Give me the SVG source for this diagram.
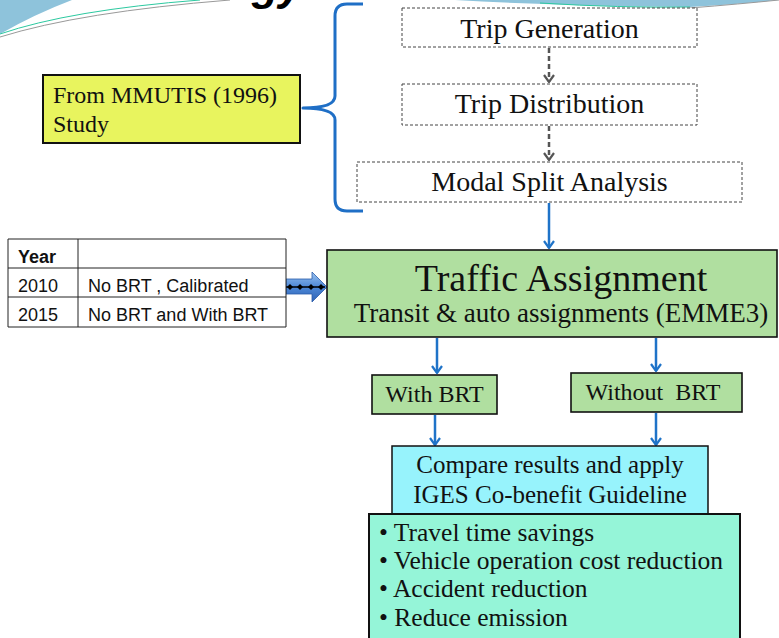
<svg xmlns="http://www.w3.org/2000/svg" width="779" height="638" viewBox="0 0 779 638">
  <defs>
    <style>
      .serif { font-family: "Liberation Serif", "Times New Roman", serif; fill: #111; }
      .sans { font-family: "Liberation Sans", Arial, sans-serif; fill: #111; font-size: 18px; }
      .dash-box { fill: #fff; stroke: #444; stroke-width: 1; stroke-dasharray: 3 2; }
      .green { fill: #B0DFA0; stroke: #111; stroke-width: 1.6; }
      .flow { fill: none; stroke: #1F73C8; stroke-width: 2.5; }
      .dflow { fill: none; stroke: #555; stroke-width: 2.5; stroke-dasharray: 5 3; }
      .grid { fill: none; stroke: #222; stroke-width: 1; }
    </style>
    <!-- open chevron heads, drawn along +x so orient="auto" turns them with the line -->
    <marker id="head-blue" viewBox="0 0 10 12" refX="9" refY="6" markerWidth="10" markerHeight="12" markerUnits="userSpaceOnUse" orient="auto">
      <polyline points="2,1 9,6 2,11" fill="none" stroke="#1F73C8" stroke-width="2.2" stroke-linejoin="miter"/>
    </marker>
    <marker id="head-grey" viewBox="0 0 10 12" refX="9" refY="6" markerWidth="10" markerHeight="12" markerUnits="userSpaceOnUse" orient="auto">
      <polyline points="2,1 9,6 2,11" fill="none" stroke="#555" stroke-width="2.2" stroke-linejoin="miter"/>
    </marker>
    <linearGradient id="fat" x1="0" y1="0" x2="0" y2="1">
      <stop offset="0" stop-color="#9CC4F0"/>
      <stop offset="0.5" stop-color="#4C87D6"/>
      <stop offset="1" stop-color="#2E62B4"/>
    </linearGradient>
  </defs>

  <!-- background decoration -->
  <g id="decor">
    <path d="M0,0 H72 Q35,14 0,34 Z" fill="#8EC3DB"/>
    <path d="M0,34 Q70,10 200,0" fill="none" stroke="#2CC9A0" stroke-width="1"/>
    <path d="M0,37 Q80,12 230,0" fill="none" stroke="#999" stroke-width="1"/>
    <path d="M455,0 Q560,6 690,7 Q740,4 779,0 Z" fill="#8EC3DB"/>
    <path d="M540,3 Q620,8 690,7" fill="none" stroke="#2CC9A0" stroke-width="1"/>
    <path d="M690,8 Q740,4 779,0" fill="none" stroke="#999" stroke-width="1"/>
    <text x="303" y="0" text-anchor="end" font-family="Liberation Sans, Arial, sans-serif" font-weight="bold" font-style="italic" font-size="44" fill="#000">Methodology</text>
  </g>

  <!-- connectors -->
  <g id="connectors">
    <line class="dflow" x1="549" y1="48" x2="549" y2="82" marker-end="url(#head-grey)"/>
    <line class="dflow" x1="549" y1="126" x2="549" y2="160" marker-end="url(#head-grey)"/>
    <line class="flow" x1="549" y1="203" x2="549" y2="248" marker-end="url(#head-blue)"/>
    <line class="flow" x1="437" y1="338" x2="437" y2="373" marker-end="url(#head-blue)"/>
    <line class="flow" x1="656" y1="338" x2="656" y2="371" marker-end="url(#head-blue)"/>
    <line class="flow" x1="435" y1="415" x2="435" y2="445" marker-end="url(#head-blue)"/>
    <line class="flow" x1="656" y1="413" x2="656" y2="445" marker-end="url(#head-blue)"/>
    <!-- brace grouping the first three steps -->
    <path d="M363,4 H347 Q335,4 335,16 V96 Q335,108 303,108 Q335,108 335,120 V199 Q335,211 347,211 H363" fill="none" stroke="#1F6FC6" stroke-width="3" stroke-linejoin="round"/>
    <!-- block arrow from the scenario table -->
    <path d="M286,279 H312 V272 L327,287 L312,302 V294 H286 Z" fill="url(#fat)" stroke="#2A5CAA" stroke-width="0.8"/>
    <line x1="286" y1="287" x2="325" y2="287" stroke="#000" stroke-width="1.5"/>
    <g fill="#000">
      <path d="M290,284 l3,3 l-3,3 l-3,-3 Z"/>
      <path d="M300,284 l3,3 l-3,3 l-3,-3 Z"/>
      <path d="M311,284 l3,3 l-3,3 l-3,-3 Z"/>
      <path d="M321,284 l3,3 l-3,3 l-3,-3 Z"/>
    </g>
  </g>

  <g id="trip-generation">
    <rect class="dash-box" x="402" y="8" width="295" height="39"/>
    <text class="serif" x="549.5" y="38" text-anchor="middle" font-size="28">Trip Generation</text>
  </g>

  <g id="trip-distribution">
    <rect class="dash-box" x="402" y="84" width="295" height="41"/>
    <text class="serif" x="549.5" y="113" text-anchor="middle" font-size="28">Trip Distribution</text>
  </g>

  <g id="modal-split">
    <rect class="dash-box" x="357" y="162" width="385" height="40"/>
    <text class="serif" x="549.5" y="191" text-anchor="middle" font-size="28">Modal Split Analysis</text>
  </g>

  <g id="mmutis-note">
    <rect x="43" y="75" width="257" height="68" fill="#E8F45E" stroke="#111" stroke-width="2"/>
    <text class="serif" x="53" y="103" font-size="24">From MMUTIS (1996)</text>
    <text class="serif" x="53" y="132" font-size="24">Study</text>
  </g>

  <g id="scenario-table">
    <rect x="8" y="239" width="278" height="88" fill="#fff"/>
    <path class="grid" d="M8,239 H286 V327 H8 Z M78,239 V327 M8,268 H286 M8,297 H286"/>
    <text class="sans" x="18" y="263" font-weight="bold">Year</text>
    <text class="sans" x="18" y="292">2010</text>
    <text class="sans" x="88" y="292">No BRT , Calibrated</text>
    <text class="sans" x="18" y="321">2015</text>
    <text class="sans" x="88" y="321">No BRT and With BRT</text>
  </g>

  <g id="traffic-assignment">
    <rect class="green" x="327" y="250" width="450" height="87" stroke-width="2"/>
    <text class="serif" x="561" y="291" text-anchor="middle" font-size="38">Traffic Assignment</text>
    <text class="serif" x="561" y="322" text-anchor="middle" font-size="27">Transit &amp; auto assignments (EMME3)</text>
  </g>

  <g id="with-brt">
    <rect class="green" x="372" y="375" width="125" height="39"/>
    <text class="serif" x="434.5" y="402" text-anchor="middle" font-size="24">With BRT</text>
  </g>

  <g id="without-brt">
    <rect class="green" x="571" y="373" width="171" height="39"/>
    <text class="serif" x="653" y="400" text-anchor="middle" font-size="24">Without&#160; BRT</text>
  </g>

  <g id="compare">
    <rect x="392" y="446" width="316" height="68" fill="#97F3FC" stroke="#111" stroke-width="1.5"/>
    <text class="serif" x="550" y="473" text-anchor="middle" font-size="25">Compare results and apply</text>
    <text class="serif" x="550" y="503" text-anchor="middle" font-size="25">IGES Co-benefit Guideline</text>
  </g>

  <g id="benefits">
    <rect x="369" y="514" width="371" height="140" fill="#95F5D8" stroke="#111" stroke-width="2"/>
    <text class="serif" font-size="25.5">
      <tspan x="379" y="541">• Travel time savings</tspan>
      <tspan x="379" y="569">• Vehicle operation cost reduction</tspan>
      <tspan x="379" y="597">• Accident reduction</tspan>
      <tspan x="379" y="626">• Reduce emission</tspan>
    </text>
  </g>
</svg>
